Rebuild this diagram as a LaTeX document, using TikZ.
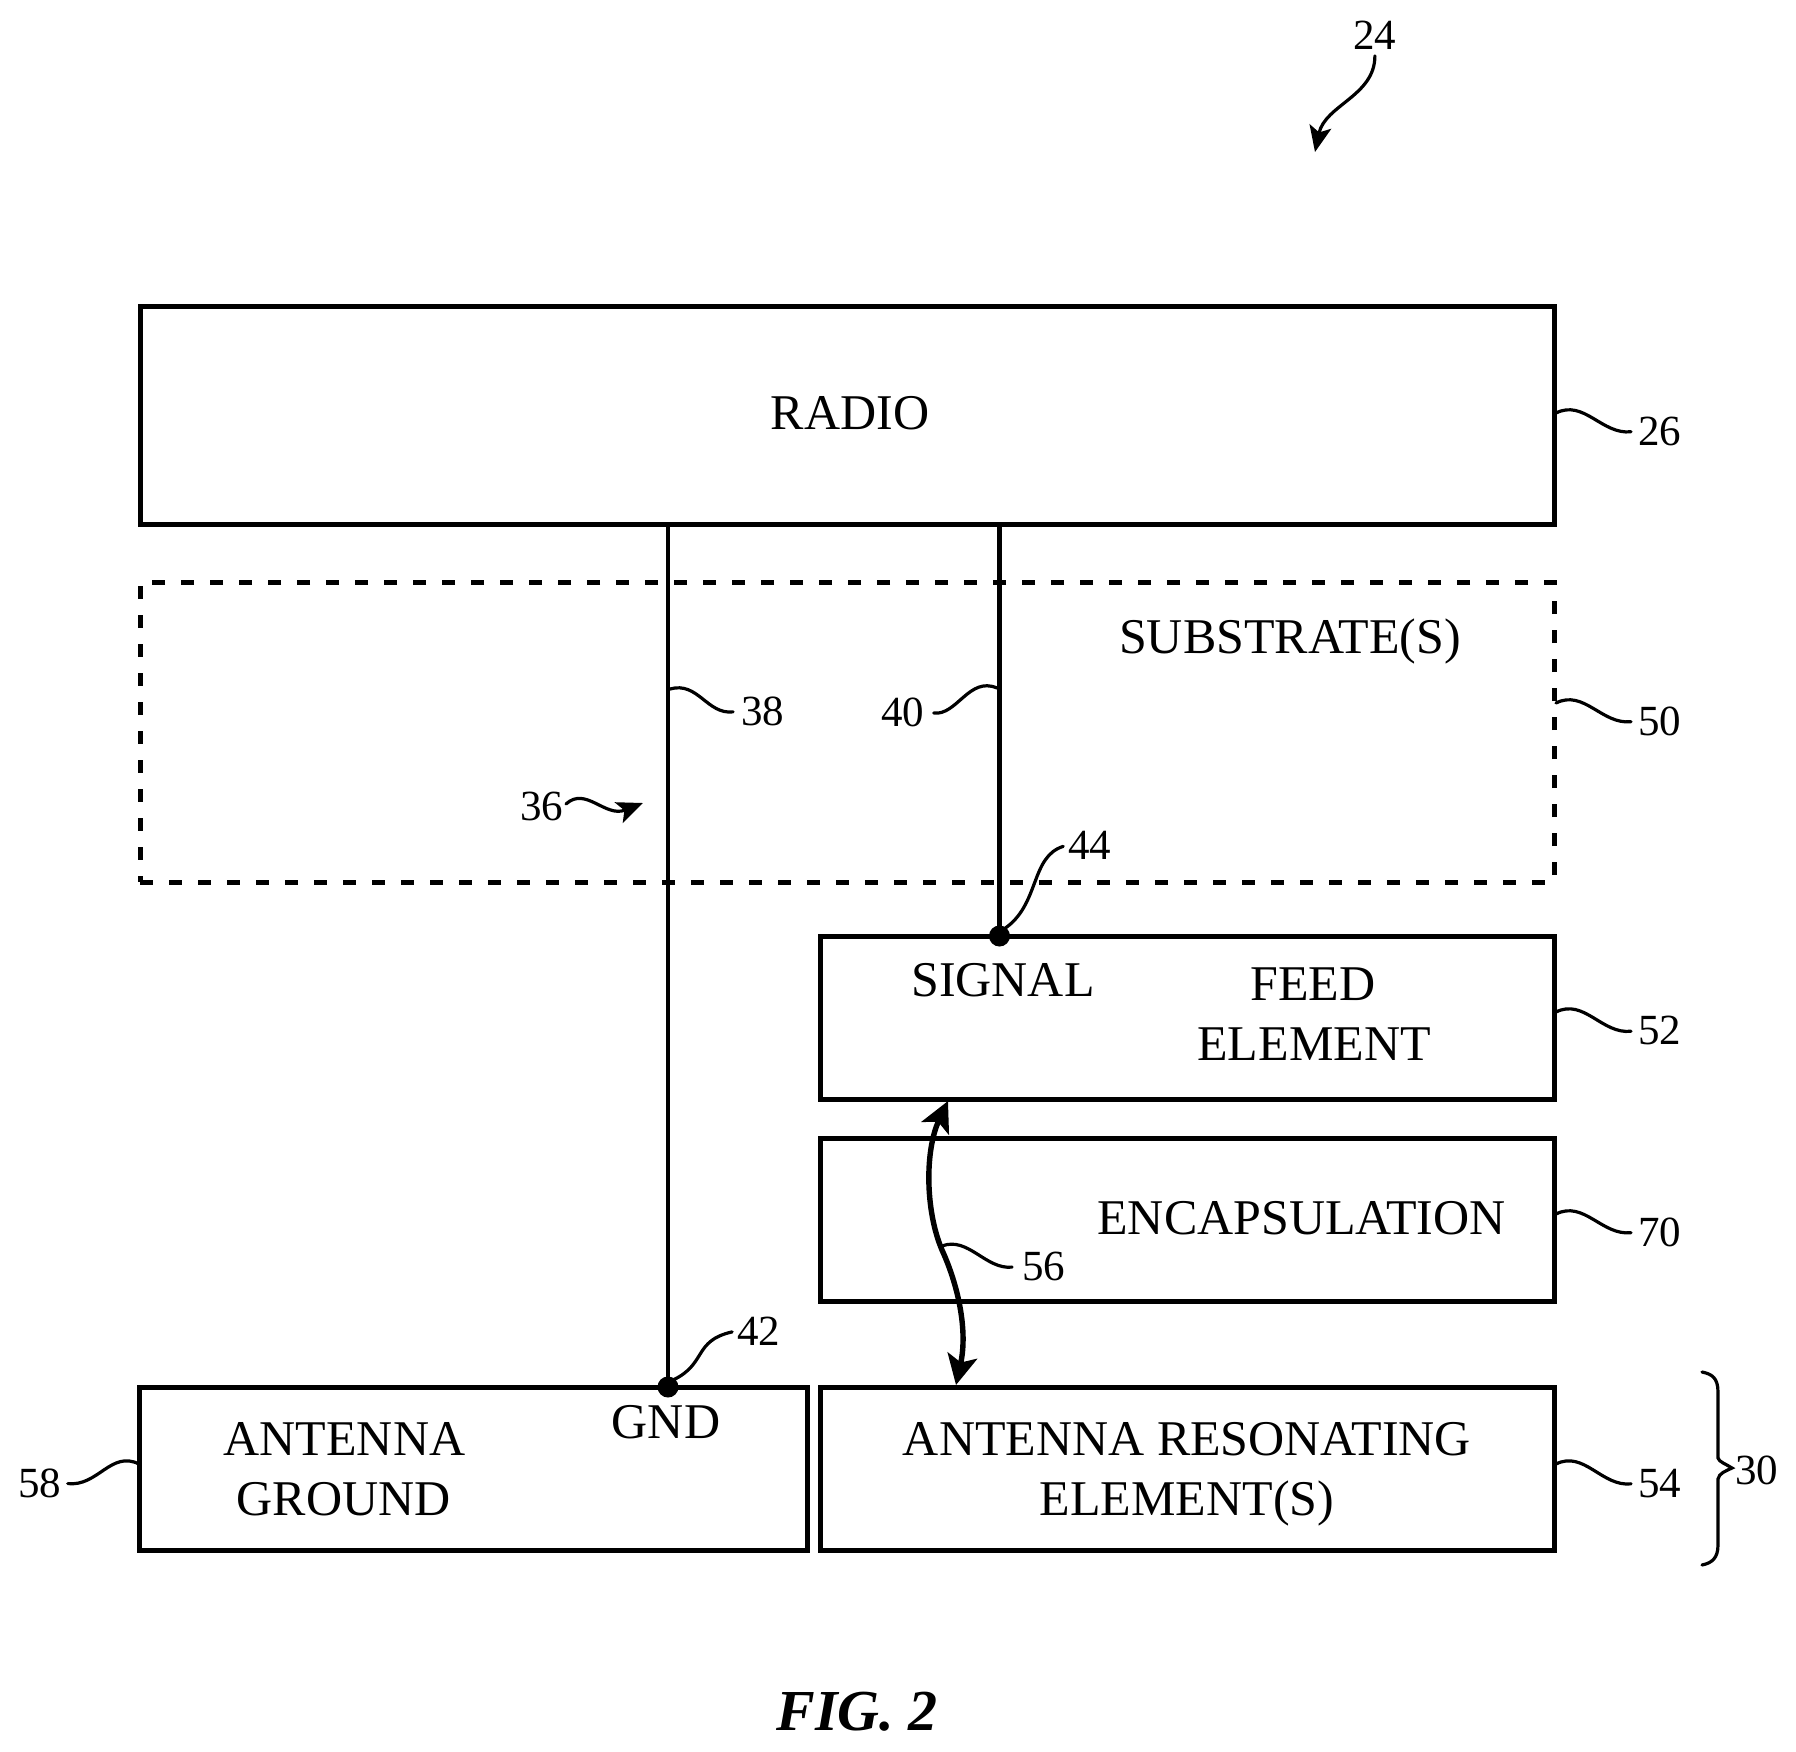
\documentclass[tikz,border=0pt]{standalone}
\usepackage{fontspec}
\setmainfont{Liberation Serif}
\usetikzlibrary{arrows.meta}
\tikzset{
  px/.style={x=0.5pt,y=-0.5pt},
  box/.style={draw=black,line width=2.5pt,rectangle,inner sep=0pt,outer sep=0pt},
  dashbox/.style={box,dash pattern=on 6.7pt off 7.8pt},
  wire/.style={line width=2.4pt,black},
  dotnode/.style={circle,fill=black,inner sep=0pt,outer sep=0pt,minimum size=10.5pt},
  capt/.style={anchor=base,inner sep=0pt,font=\fontsize{25}{30}\selectfont},
  num/.style={anchor=base west,inner sep=0pt,font=\fontsize{21.5}{26}\selectfont},
  lead/.style={line width=1.6pt,black,line cap=round},
  tiph/.style={-{Stealth[length=13pt,width=11pt,inset=3pt]}},
  tipboth/.style={{Stealth[length=15pt,width=15pt,inset=3.5pt]}-{Stealth[length=15pt,width=15pt,inset=3.5pt]}},
}
\begin{document}
\begin{tikzpicture}[px]
\useasboundingbox (0,0) rectangle (1796,1752);
% boxes
\node[box,minimum width=707pt,minimum height=109pt] (radio) at (847,415) {};
\node[dashbox,minimum width=707pt,minimum height=150pt] (subs) at (847,732) {};
\node[box,minimum width=366.75pt,minimum height=81.5pt] (feed) at (1187.25,1017.5) {};
\node[box,minimum width=366.75pt,minimum height=81.5pt] (encap) at (1187.25,1219.5) {};
\node[box,minimum width=366.75pt,minimum height=81.5pt] (reso) at (1187.25,1468.5) {};
\node[box,minimum width=334pt,minimum height=81.5pt] (ground) at (473,1468.5) {};
% box texts
\node[capt] (tradio) at (850,429) {RADIO};
\node[capt] (tsubs) at (1290,653.5) {SUBSTRATE(S)};
\node[capt] (tsignal) at (1003,996) {SIGNAL};
\node[capt] (tfeed) at (1313,1000) {FEED};
\node[capt] (telem) at (1314,1060.5) {ELEMENT};
\node[capt,anchor=base west] (tencap) at (1097,1234) {ENCAPSULATION};
\node[capt] (tres) at (1187,1455) {ANTENNA RESONATING};
\node[capt] (tres2) at (1187,1515) {ELEMENT(S)};
\node[capt] (tant) at (344.5,1455.5) {ANTENNA};
\node[capt] (tgnd) at (343.5,1515.5) {GROUND};
\node[capt] (tgndp) at (666,1438) {GND};
\node[anchor=base,inner sep=0pt,font=\fontsize{29}{34}\selectfont\bfseries\itshape] (fig) at (857,1730) {FIG. 2};
% wires and terminals
\node[dotnode] (dgnd) at (668,1387) {};
\node[dotnode] (dsig) at (999.5,936) {};
\coordinate (rgnd) at (radio.south -| dgnd);
\coordinate (rsig) at (radio.south -| dsig);
\draw[wire] (rgnd) -- (dgnd);
\draw[wire] (rsig) -- (dsig);
% reference numerals
\node[num] (l24) at (1353,49.5) {24};
\node[num] (l26) at (1638,445) {26};
\node[num] (l50) at (1638,735) {50};
\node[num] (l52) at (1638,1044.5) {52};
\node[num] (l70) at (1638,1246) {70};
\node[num] (l54) at (1638,1497) {54};
\node[num] (l30) at (1735,1484) {30};
\node[num] (l58) at (18,1497) {58};
\node[num] (l38) at (741,725) {38};
\node[num] (l40) at (881,726) {40};
\node[num] (l36) at (520,820) {36};
\node[num] (l44) at (1068,859) {44};
\node[num] (l42) at (737,1345) {42};
\node[num] (l56) at (1022,1280) {56};
% leaders
\coordinate (s26) at (1556,413);
\coordinate (s50) at (1556,703);
\coordinate (s52) at (1556,1012);
\coordinate (s70) at (1556,1214);
\coordinate (s54) at (1556,1464);
\coordinate (s58) at (139,1464);
\coordinate (s38) at (670,689);
\coordinate (s40) at (997,688);
\coordinate (s44) at (1004,929);
\coordinate (s42) at (673,1380);
\coordinate (s56) at (942,1246);
\coordinate (t24) at (1315,152);
\coordinate (t36) at (643,803);
\foreach \s/\l in {s26/l26,s50/l50,s52/l52,s70/l70,s54/l54}
  \draw[lead,shorten >=3.5pt] (\s) .. controls +(28,-14) and +(-36,4) .. (\l.west);
\draw[lead,shorten >=3pt] (s58) .. controls +(-28,-14) and +(36,4) .. (l58.east);
\draw[lead,shorten >=4pt] (s38) .. controls +(28,-8) and +(-34,4) .. (l38.west);
\draw[lead,shorten >=4.5pt] (s40) .. controls +(-28,-12) and +(32,4) .. (l40.east);
\draw[lead,shorten >=2.5pt] (s44) .. controls +(36,-24) and +(-38,12) .. (l44.west);
\draw[lead,shorten >=2.5pt] (s42) .. controls +(34,-16) and +(-44,10) .. (l42.west);
\draw[lead,shorten >=5pt] (s56) .. controls +(26,-10) and +(-36,4) .. (l56.west);
\draw[lead,tiph,shorten <=3pt] (l24.south) .. controls +(0,46) and (1325,105) .. (t24);
\draw[lead,tiph,shorten <=1.5pt] (l36.east) .. controls +(22,-20) and (605,818) .. (t36);
% coupling arrow
\coordinate (c1) at (948,1101);
\coordinate (cm) at (942,1250);
\coordinate (c2) at (956,1385);
\draw[line width=2.7pt,tipboth] (c1) .. controls (925,1150) and (925,1210) .. (cm) .. controls (958,1285) and (968,1330) .. (c2);
% brace
\draw[lead] (1702,1372) .. controls (1712,1374) and (1718,1378) .. (1718,1392)
  -- (1718,1458) .. controls (1719,1462) and (1726,1464) .. (1732,1468)
  .. controls (1726,1471) and (1719,1473) .. (1718,1479)
  -- (1718,1545) .. controls (1718,1558) and (1712,1563) .. (1702,1565);
\end{tikzpicture}
\end{document}
